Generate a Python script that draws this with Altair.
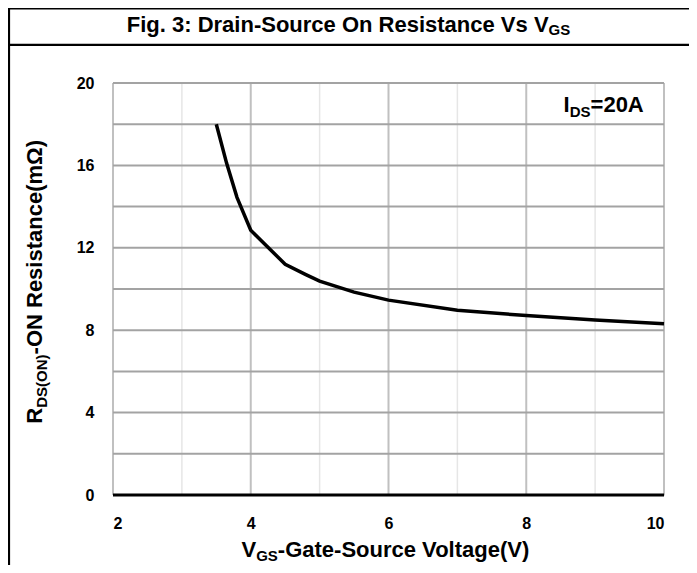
import altair as alt
import pandas as pd

# ---- data ----
vgs = [3.5, 3.65, 3.8, 4.0, 4.5, 4.8, 5.0, 5.5, 6.0, 7.0, 8.0, 9.0, 10.0]
rds = [18.0, 16.1, 14.45, 12.85, 11.2, 10.7, 10.38, 9.85, 9.46, 8.97, 8.71, 8.5, 8.31]
x_ticks = [2, 4, 6, 8, 10]
y_ticks = [0, 4, 8, 12, 16, 20]
h_grid = [2, 4, 6, 8, 10, 12, 14, 16, 18, 20]
v_major = [2, 4, 6, 8, 10]
v_minor = [3, 5, 7, 9]

FONT = "Liberation Sans, Arial, Helvetica, sans-serif"
W, H = 551, 412

# Arial-bold advance widths (1/1000 em) for placing subscript pieces
AW = {" ": 278, ".": 278, ":": 333, "-": 333, "(": 333, ")": 333, "=": 584,
      "0": 556, "2": 556, "3": 556, "A": 722, "D": 722, "F": 611, "G": 778,
      "I": 278, "N": 722, "O": 778, "R": 722, "S": 667, "V": 667,
      "a": 556, "c": 556, "e": 556, "g": 611, "i": 278, "l": 278, "m": 889,
      "n": 611, "o": 611, "r": 389, "s": 556, "t": 333, "u": 611, "Ω": 768}


def tw(s, size):
    return sum(AW.get(c, 556) for c in s) * size / 1000.0


BIG, SUB = 22, 15

# title pieces
t_main, t_sub = "Fig. 3: Drain-Source On Resistance Vs V", "GS"
t_total = tw(t_main, BIG) + tw(t_sub, SUB)
t_x0 = 235.5 - t_total / 2
t_y = -51.5

# x-title pieces
xt1, xt2, xt3 = "V", "GS", "-Gate-Source Voltage(V)"
xt_total = tw(xt1, BIG) + tw(xt2, SUB) + tw(xt3, BIG)
xt_x0 = 273.2 - xt_total / 2
xt_y = 473.5

# y-title pieces (rotated, running upward)
yt1, yt2, yt3 = "R", "DS(ON)", "-ON Resistance(mΩ)"
yt_total = tw(yt1, BIG) + tw(yt2, SUB) + tw(yt3, BIG)
yt_y0 = 199.2 + yt_total / 2
yt_x = -71

# annotation pieces
a1, a2, a3 = "I", "DS", "=20A"
a_x0, a_y = 450.6, 29.4

big_df = pd.DataFrame({
    "txt": [t_main, xt1, xt3, a1, a3],
    "px": [t_x0, xt_x0, xt_x0 + tw(xt1, BIG) + tw(xt2, SUB), a_x0,
           a_x0 + tw(a1, BIG) + tw(a2, SUB)],
    "py": [t_y, xt_y, xt_y, a_y, a_y],
})
sub_df = pd.DataFrame({
    "txt": [t_sub, xt2, a2],
    "px": [t_x0 + tw(t_main, BIG), xt_x0 + tw(xt1, BIG), a_x0 + tw(a1, BIG)],
    "py": [t_y + 3, xt_y + 4.5, a_y + 5],
})
ybig_df = pd.DataFrame({
    "txt": [yt1, yt3],
    "px": [yt_x, yt_x],
    "py": [yt_y0, yt_y0 - tw(yt1, BIG) - tw(yt2, SUB)],
})
ysub_df = pd.DataFrame({
    "txt": [yt2],
    "px": [yt_x + 4.5],
    "py": [yt_y0 - tw(yt1, BIG)],
})

xs = alt.Scale(domain=[2, 10], nice=False, zero=False)
ys = alt.Scale(domain=[0, 20], nice=False)

curve_df = pd.DataFrame({"vgs": vgs, "rds": rds})

minor = alt.Chart(pd.DataFrame({"v": v_minor})).mark_rule(
    color="#e6e6e6", strokeWidth=1.5).encode(x=alt.X("v:Q", scale=xs))
major = alt.Chart(pd.DataFrame({"v": v_major})).mark_rule(
    color="#c0c0c0", strokeWidth=2).encode(x=alt.X("v:Q", scale=xs))
hgrid = alt.Chart(pd.DataFrame({"h": h_grid})).mark_rule(
    color="#a3a3a3", strokeWidth=2).encode(y=alt.Y("h:Q", scale=ys))

base_axes = alt.Chart(curve_df).mark_line(color="black", strokeWidth=3.5).encode(
    x=alt.X("vgs:Q", scale=xs,
            axis=alt.Axis(values=x_ticks, title=None, grid=False, ticks=False,
                          domain=False, labelPadding=20, labelFontSize=16,
                          labelFont=FONT, labelFontWeight="bold",
                          labelColor="black", format="d")),
    y=alt.Y("rds:Q", scale=ys,
            axis=alt.Axis(values=y_ticks, title=None, grid=False, ticks=False,
                          domain=False, labelPadding=19, labelFontSize=16,
                          labelFont=FONT, labelFontWeight="bold",
                          labelColor="black", format="d")),
)

baseline = alt.Chart(pd.DataFrame({"z": [0]})).mark_rule(
    color="black", strokeWidth=3).encode(y=alt.Y("z:Q", scale=ys))

frame_df = pd.DataFrame({
    "x1": [-104.0, -104.0, -104.0],
    "x2": [700.0, 700.0, -104.0],
    "y1": [-74.5, -38.2, -76.0],
    "y2": [-74.5, -38.2, 700.0],
})
frame = alt.Chart(frame_df).mark_rule(color="black", strokeWidth=2.2).encode(
    x=alt.X("x1:Q", scale=None), x2="x2:Q",
    y=alt.Y("y1:Q", scale=None), y2="y2:Q")


def text_layer(df, size, angle=0):
    kw = dict(font=FONT, fontWeight="bold", fontSize=size, color="black",
              align="left", baseline="alphabetic")
    if angle:
        kw["angle"] = angle
    return alt.Chart(df).mark_text(**kw).encode(
        x=alt.X("px:Q", scale=None), y=alt.Y("py:Q", scale=None), text="txt:N")


chart = alt.layer(
    minor, major, hgrid, baseline, base_axes, frame,
    text_layer(big_df, BIG), text_layer(sub_df, SUB),
    text_layer(ybig_df, BIG, 270), text_layer(ysub_df, SUB, 270),
).properties(
    width=W, height=H,
    autosize=alt.AutoSizeParams(type="none"),
    padding={"left": 105, "top": 75, "right": 25, "bottom": 70},
).configure_view(stroke=None).configure(background="white")

chart.save("out.html", embed_options={"renderer": "svg", "actions": False})
